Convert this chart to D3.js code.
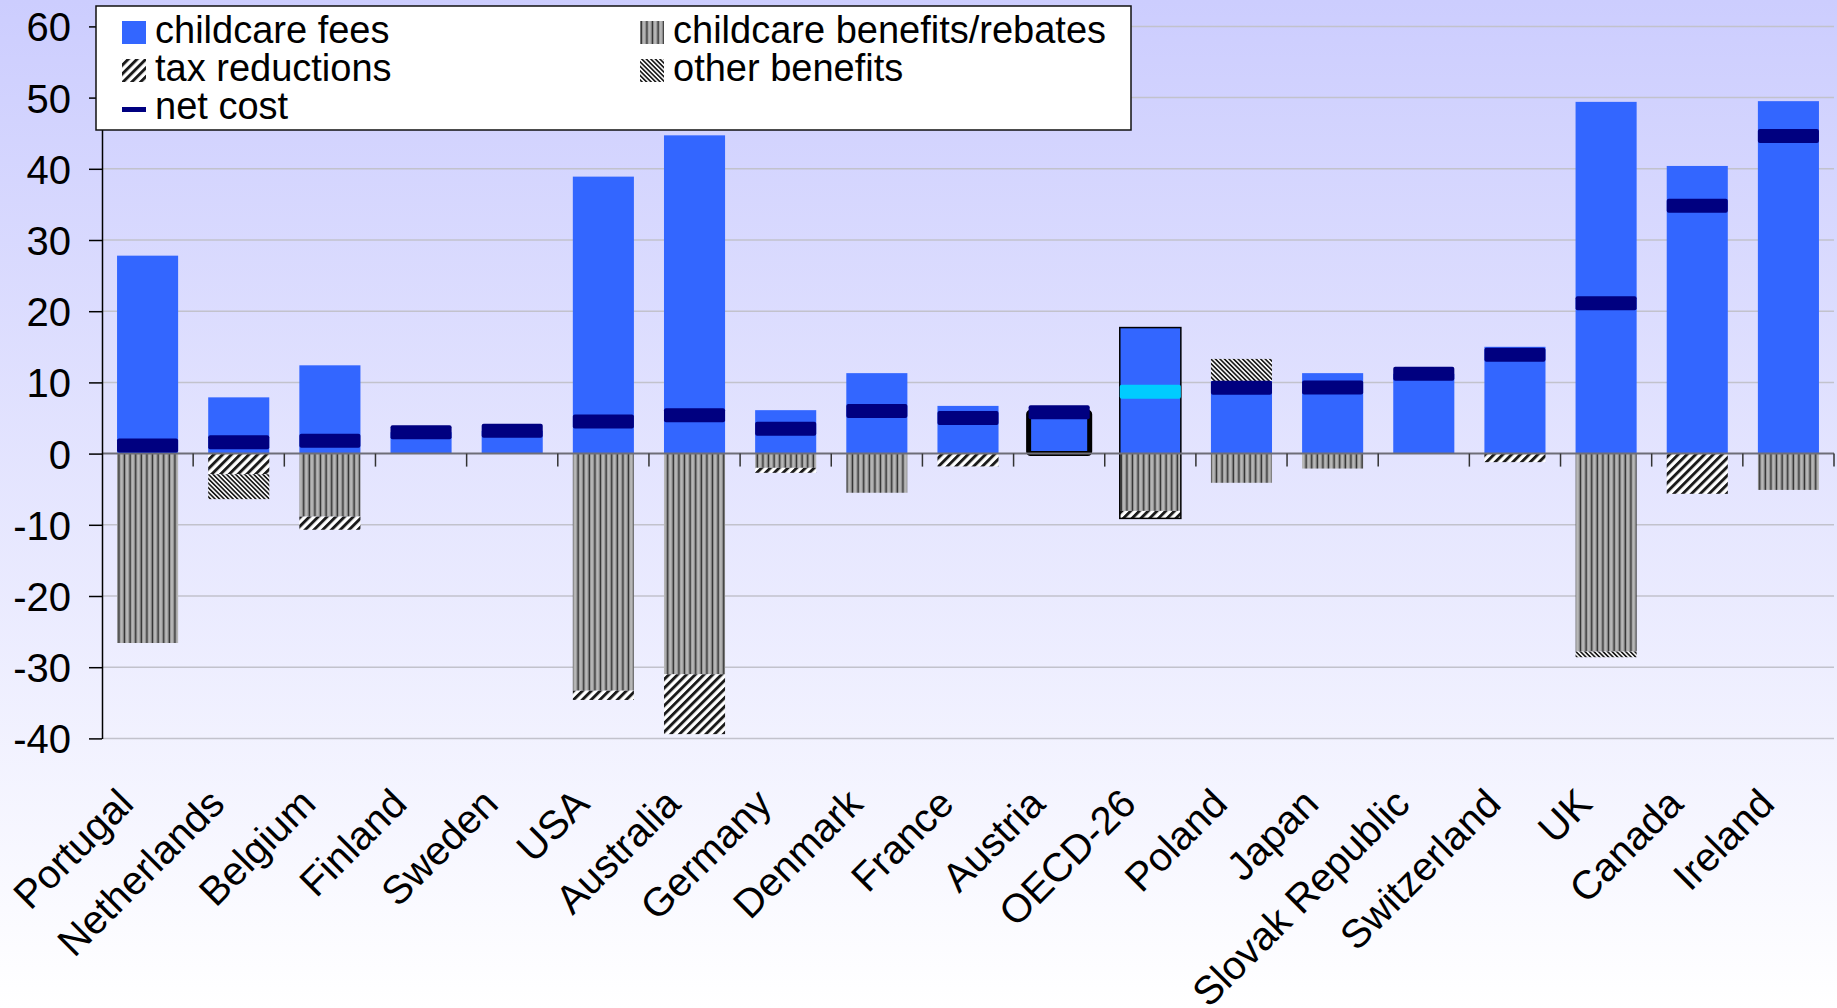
<!DOCTYPE html>
<html>
<head>
<meta charset="utf-8">
<script src="https://cdn.jsdelivr.net/npm/d3@7"></script>
<style>
  html, body { margin: 0; padding: 0; background: #fff; }
  svg { display: block; font-family: "Liberation Sans", Arial, sans-serif; }
</style>
</head>
<body>
<div id="chart"></div>
<script>
// data
const categories = ["Portugal", "Netherlands", "Belgium", "Finland", "Sweden", "USA", "Australia",
  "Germany", "Denmark", "France", "Austria", "OECD-26", "Poland", "Japan", "Slovak Republic",
  "Switzerland", "UK", "Canada", "Ireland"];
const childcareFees = [27.8, 7.9, 12.4, 3.0, 3.2, 38.9, 44.7, 6.1, 11.3, 6.7, 5.8, 17.7, 10.2, 11.3, 11.2, 15.0, 49.4, 40.4, 49.5];
const childcareBenefits = [-26.6, 0, -8.85, 0, 0, -33.3, -31.0, -2.0, -5.5, 0, 0, -8.05, -4.1, -2.1, 0, 0, -27.8, 0, -5.1];
const taxReductions = [0, -2.9, -1.85, 0, 0, -1.3, -8.4, -0.7, 0, -1.8, 0, -1.05, 0, 0, 0, -1.2, 0, -5.65, 0];
const otherBenefits = [0, -3.5, 0, 0, 0, 0, 0, 0, 0, 0, 0, 0, 3.1, 0, 0, 0, -0.8, 0, 0];
const netCost = [1.15, 1.6, 1.8, 3.0, 3.2, 4.5, 5.4, 3.5, 6.0, 5.0, 5.8, 8.7, 9.25, 9.3, 11.2, 13.9, 21.1, 34.8, 44.6];
const yTicks = [-40, -30, -20, -10, 0, 10, 20, 30, 40, 50, 60];

const width = 1837, height = 1008;
const margin = { top: 26.4, right: 3, bottom: 269.6, left: 102 };

const svg = d3.select('#chart').append('svg')
  .attr('width', width)
  .attr('height', height);

const defs = svg.append('defs');

// background gradient, lavender at the top fading to white
let grad = defs.append('linearGradient')
  .attr('id', 'bg')
  .attr('x1', 0).attr('y1', 0).attr('x2', 0).attr('y2', 1);
grad.append('stop').attr('offset', '0%').attr('stop-color', '#cccdfe');
grad.append('stop').attr('offset', '100%').attr('stop-color', '#ffffff');

// vertical stripes - childcare benefits/rebates
let pv = defs.append('pattern')
  .attr('id', 'pat-benefits')
  .attr('patternUnits', 'userSpaceOnUse')
  .attr('width', 5.6).attr('height', 10);
pv.append('rect').attr('width', 5.6).attr('height', 10).attr('fill', '#a4a4a4');
pv.append('rect').attr('x', 0.6).attr('width', 1.4).attr('height', 10).attr('fill', '#2e2e2e');
pv.append('rect').attr('x', 3.4).attr('width', 0.8).attr('height', 10).attr('fill', '#cfcfcf');

// "/" diagonal - tax reductions
let pt = defs.append('pattern')
  .attr('id', 'pat-tax')
  .attr('patternUnits', 'userSpaceOnUse')
  .attr('width', 6.2).attr('height', 10)
  .attr('patternTransform', 'rotate(45)');
pt.append('rect').attr('width', 6.2).attr('height', 10).attr('fill', '#ffffff');
pt.append('rect').attr('width', 2.9).attr('height', 10).attr('fill', '#1a1a1a');

// "\" diagonal, finer - other benefits
let po = defs.append('pattern')
  .attr('id', 'pat-other')
  .attr('patternUnits', 'userSpaceOnUse')
  .attr('width', 3.2).attr('height', 10)
  .attr('patternTransform', 'rotate(-45)');
po.append('rect').attr('width', 3.2).attr('height', 10).attr('fill', '#f4f4f4');
po.append('rect').attr('width', 1.6).attr('height', 10).attr('fill', '#1a1a1a');

svg.append('rect')
  .attr('width', width)
  .attr('height', height)
  .attr('fill', 'url(#bg)');

const x = d3.scaleBand()
  .domain(categories)
  .range([margin.left, width - margin.right])
  .paddingInner(0.33)
  .paddingOuter(0.165);

const y = d3.scaleLinear()
  .domain([-40, 60])
  .range([height - margin.bottom, margin.top]);

const plotLeft = margin.left, plotRight = width - margin.right;

// gridlines
svg.append('g')
  .selectAll('line')
  .data(yTicks.filter(t => t !== 0))
  .join('line')
  .attr('x1', plotLeft).attr('x2', plotRight)
  .attr('y1', d => y(d)).attr('y2', d => y(d))
  .attr('stroke', '#c2c2cc')
  .attr('stroke-width', 1.5);

// stacked bars
const rows = categories.map((c, i) => ({
  country: c,
  fees: childcareFees[i],
  benefits: childcareBenefits[i],
  tax: taxReductions[i],
  other: otherBenefits[i]
}));

const keys = ['fees', 'benefits', 'tax', 'other'];
const fills = {
  fees: '#3366ff',
  benefits: 'url(#pat-benefits)',
  tax: 'url(#pat-tax)',
  other: 'url(#pat-other)'
};

const series = d3.stack()
  .keys(keys)
  .offset(d3.stackOffsetDiverging)(rows);

svg.append('g')
  .selectAll('g')
  .data(series)
  .join('g')
  .attr('fill', d => fills[d.key])
  .selectAll('rect')
  .data(d => d.filter(s => s[1] - s[0] !== 0))
  .join('rect')
  .attr('x', d => x(d.data.country))
  .attr('width', x.bandwidth())
  .attr('y', d => y(d[1]))
  .attr('height', d => y(d[0]) - y(d[1]));

// the highlighted bars: Austria fees and the OECD-26 stack
let austria = categories.indexOf('Austria');
svg.append('rect')
  .attr('x', x('Austria'))
  .attr('width', x.bandwidth())
  .attr('y', y(childcareFees[austria]))
  .attr('height', y(0) - y(childcareFees[austria]))
  .attr('fill', 'none')
  .attr('stroke', '#000')
  .attr('stroke-width', 5)
  .attr('rx', 2);

let oecd = categories.indexOf('OECD-26');
let oecdLow = childcareBenefits[oecd] + taxReductions[oecd] + Math.min(0, otherBenefits[oecd]);
svg.append('rect')
  .attr('x', x('OECD-26'))
  .attr('width', x.bandwidth())
  .attr('y', y(childcareFees[oecd]))
  .attr('height', y(oecdLow) - y(childcareFees[oecd]))
  .attr('fill', 'none')
  .attr('stroke', '#000')
  .attr('stroke-width', 1.5);

// zero line and category ticks
svg.append('line')
  .attr('x1', plotLeft).attr('x2', plotRight)
  .attr('y1', y(0)).attr('y2', y(0))
  .attr('stroke', '#6e6e78')
  .attr('stroke-width', 2);

svg.append('g')
  .selectAll('line')
  .data(categories)
  .join('line')
  .attr('x1', d => x(d) + x.bandwidth() + x.step() * 0.165)
  .attr('x2', d => x(d) + x.bandwidth() + x.step() * 0.165)
  .attr('y1', y(0)).attr('y2', y(0) + 13)
  .attr('stroke', '#333')
  .attr('stroke-width', 1.5);

// net cost markers
svg.append('g')
  .selectAll('rect')
  .data(categories)
  .join('rect')
  .attr('x', d => x(d))
  .attr('width', x.bandwidth())
  .attr('y', (d, i) => y(netCost[i]) - 7)
  .attr('height', 14)
  .attr('rx', 2)
  .attr('fill', d => d === 'OECD-26' ? '#00ccff' : '#000080');

// y axis
const yAxis = svg.append('g')
  .attr('transform', 'translate(' + plotLeft + ',0)')
  .call(d3.axisLeft(y)
    .tickValues(yTicks)
    .tickFormat(d => String(d))
    .tickSize(13)
    .tickPadding(18)
    .tickSizeOuter(0));
yAxis.select('.domain').attr('stroke', '#000').attr('stroke-width', 1.5);
yAxis.selectAll('.tick line').attr('stroke', '#000').attr('stroke-width', 1.5);
yAxis.selectAll('.tick text')
  .attr('fill', '#000')
  .style('font-size', '40px')
  .style('font-family', '"Liberation Sans", Arial, sans-serif')
  .attr('dy', '0.36em');

// category labels, rotated
svg.append('g')
  .selectAll('text')
  .data(categories)
  .join('text')
  .attr('transform', d => 'translate(' + (x(d) + x.bandwidth() / 2 - 12) + ',806) rotate(-45)')
  .attr('text-anchor', 'end')
  .style('font-size', '40px')
  .attr('fill', '#000')
  .text(d => d);

// legend
const legend = svg.append('g');
legend.append('rect')
  .attr('x', 96).attr('y', 6)
  .attr('width', 1035).attr('height', 124)
  .attr('fill', '#fff')
  .attr('stroke', '#111')
  .attr('stroke-width', 1.5);

const legendItems = [
  { label: 'childcare fees', fill: fills.fees, col: 0, row: 0 },
  { label: 'childcare benefits/rebates', fill: fills.benefits, col: 1, row: 0 },
  { label: 'tax reductions', fill: fills.tax, col: 0, row: 1 },
  { label: 'other benefits', fill: fills.other, col: 1, row: 1 },
  { label: 'net cost', fill: '#000080', col: 0, row: 2, line: true }
];
const colX = [122, 640];

let li = legend.selectAll('g.item')
  .data(legendItems)
  .join('g')
  .attr('class', 'item')
  .attr('transform', d => 'translate(' + colX[d.col] + ',' + (43 + d.row * 38) + ')');

li.append('rect')
  .attr('x', 0)
  .attr('y', d => d.line ? -12 : -22)
  .attr('width', 24)
  .attr('height', d => d.line ? 5 : 23)
  .attr('fill', d => d.fill);

li.append('text')
  .attr('x', 33)
  .attr('y', 0)
  .style('font-size', '38px')
  .attr('fill', '#000')
  .text(d => d.label);
</script>
</body>
</html>
